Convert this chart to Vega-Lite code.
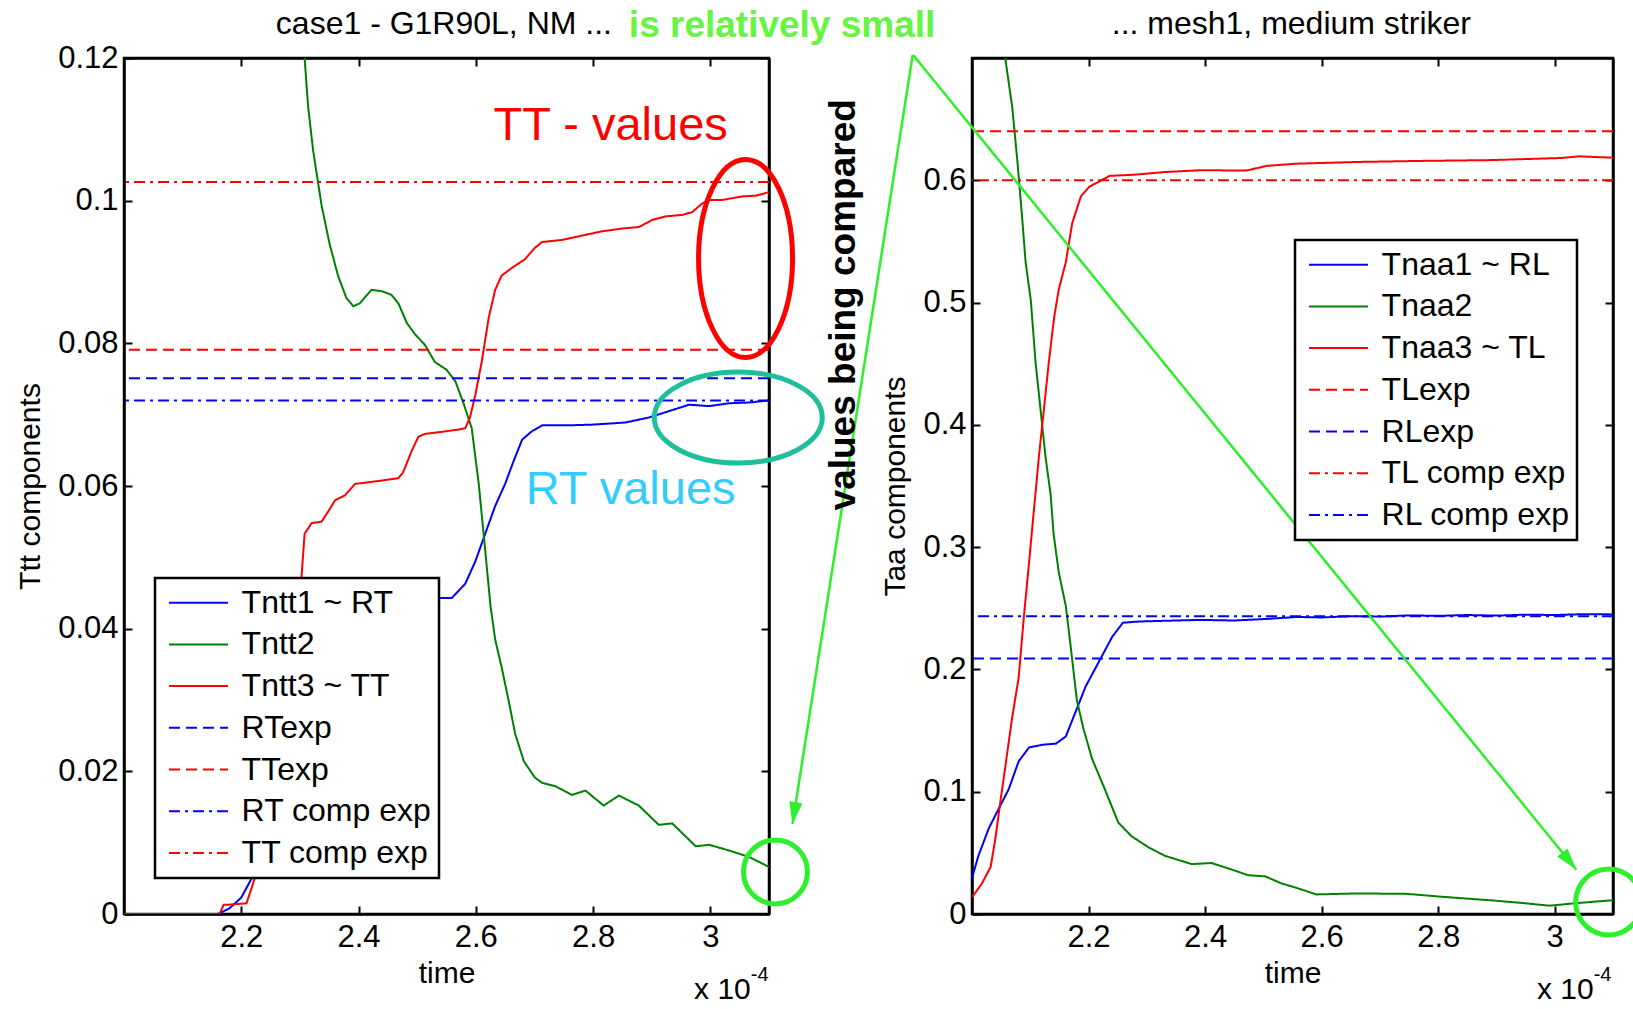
{
  "$schema": "https://vega.github.io/schema/vega-lite/v6.json",
  "background": "white",
  "padding": {"left": 14, "top": 5, "right": 0, "bottom": 0},
  "bounds": "flush",
  "spacing": 203,
  "config": {
    "font": "Liberation Sans",
    "view": {"stroke": "black", "strokeWidth": 2.5},
    "axis": {"domainColor": "black", "domainWidth": 2.5, "tickColor": "black", "tickWidth": 2, "tickSize": -8, "labelFont": "Liberation Sans", "labelFontSize": 31, "labelColor": "black", "titleFont": "Liberation Sans", "titleFontSize": 30, "titleFontWeight": "normal", "titleColor": "black", "grid": false},
    "axisX": {"labelPadding": 16, "titlePadding": 6},
    "axisY": {"labelPadding": 14, "titlePadding": 12},
    "legend": {"strokeColor": "black", "strokeWidth": 2.5, "fillColor": "white", "padding": 6.7, "symbolType": "stroke", "symbolSize": 3481, "symbolStrokeWidth": 2, "symbolOffset": 6.3, "labelFont": "Liberation Sans", "labelFontSize": 32, "labelColor": "black", "labelOffset": 12.6, "clipHeight": 36, "rowPadding": 5.7, "labelLimit": 0}
  },
  "datasets": {
    "leftCurves": [
      {"series": "Tntt1 ~ RT", "time": 2.0, "value": 0},
      {"series": "Tntt1 ~ RT", "time": 2.16, "value": 0},
      {"series": "Tntt1 ~ RT", "time": 2.18, "value": 0.0008},
      {"series": "Tntt1 ~ RT", "time": 2.2, "value": 0.0023},
      {"series": "Tntt1 ~ RT", "time": 2.223, "value": 0.0058},
      {"series": "Tntt1 ~ RT", "time": 2.24, "value": 0.0074},
      {"series": "Tntt1 ~ RT", "time": 2.26, "value": 0.012},
      {"series": "Tntt1 ~ RT", "time": 2.3, "value": 0.022},
      {"series": "Tntt1 ~ RT", "time": 2.35, "value": 0.032},
      {"series": "Tntt1 ~ RT", "time": 2.4, "value": 0.039},
      {"series": "Tntt1 ~ RT", "time": 2.45, "value": 0.0432},
      {"series": "Tntt1 ~ RT", "time": 2.5, "value": 0.0443},
      {"series": "Tntt1 ~ RT", "time": 2.559, "value": 0.0443},
      {"series": "Tntt1 ~ RT", "time": 2.582, "value": 0.0463},
      {"series": "Tntt1 ~ RT", "time": 2.599, "value": 0.0494},
      {"series": "Tntt1 ~ RT", "time": 2.616, "value": 0.0533},
      {"series": "Tntt1 ~ RT", "time": 2.633, "value": 0.0572},
      {"series": "Tntt1 ~ RT", "time": 2.65, "value": 0.0603},
      {"series": "Tntt1 ~ RT", "time": 2.664, "value": 0.0634},
      {"series": "Tntt1 ~ RT", "time": 2.679, "value": 0.0665},
      {"series": "Tntt1 ~ RT", "time": 2.696, "value": 0.0677},
      {"series": "Tntt1 ~ RT", "time": 2.713, "value": 0.0685},
      {"series": "Tntt1 ~ RT", "time": 2.755, "value": 0.0685},
      {"series": "Tntt1 ~ RT", "time": 2.798, "value": 0.0686},
      {"series": "Tntt1 ~ RT", "time": 2.855, "value": 0.0689},
      {"series": "Tntt1 ~ RT", "time": 2.895, "value": 0.0696},
      {"series": "Tntt1 ~ RT", "time": 2.941, "value": 0.0708},
      {"series": "Tntt1 ~ RT", "time": 2.964, "value": 0.0714},
      {"series": "Tntt1 ~ RT", "time": 2.998, "value": 0.0712},
      {"series": "Tntt1 ~ RT", "time": 3.032, "value": 0.0716},
      {"series": "Tntt1 ~ RT", "time": 3.066, "value": 0.0717},
      {"series": "Tntt1 ~ RT", "time": 3.1, "value": 0.072},
      {"series": "Tntt2", "time": 2.3, "value": 0.135},
      {"series": "Tntt2", "time": 2.308, "value": 0.12},
      {"series": "Tntt2", "time": 2.314, "value": 0.1132},
      {"series": "Tntt2", "time": 2.3226, "value": 0.107},
      {"series": "Tntt2", "time": 2.337, "value": 0.0993},
      {"series": "Tntt2", "time": 2.351, "value": 0.0938},
      {"series": "Tntt2", "time": 2.365, "value": 0.0895},
      {"series": "Tntt2", "time": 2.379, "value": 0.0864},
      {"series": "Tntt2", "time": 2.391, "value": 0.0852},
      {"series": "Tntt2", "time": 2.402, "value": 0.0856},
      {"series": "Tntt2", "time": 2.422, "value": 0.0875},
      {"series": "Tntt2", "time": 2.44, "value": 0.0873},
      {"series": "Tntt2", "time": 2.456, "value": 0.0868},
      {"series": "Tntt2", "time": 2.468, "value": 0.0856},
      {"series": "Tntt2", "time": 2.482, "value": 0.0829},
      {"series": "Tntt2", "time": 2.496, "value": 0.0813},
      {"series": "Tntt2", "time": 2.513, "value": 0.0798},
      {"series": "Tntt2", "time": 2.53, "value": 0.0774},
      {"series": "Tntt2", "time": 2.55, "value": 0.0763},
      {"series": "Tntt2", "time": 2.565, "value": 0.0747},
      {"series": "Tntt2", "time": 2.579, "value": 0.0716},
      {"series": "Tntt2", "time": 2.593, "value": 0.0681},
      {"series": "Tntt2", "time": 2.605, "value": 0.0603},
      {"series": "Tntt2", "time": 2.616, "value": 0.051},
      {"series": "Tntt2", "time": 2.625, "value": 0.0432},
      {"series": "Tntt2", "time": 2.633, "value": 0.0385},
      {"series": "Tntt2", "time": 2.644, "value": 0.0346},
      {"series": "Tntt2", "time": 2.656, "value": 0.0299},
      {"series": "Tntt2", "time": 2.667, "value": 0.0253},
      {"series": "Tntt2", "time": 2.682, "value": 0.0214},
      {"series": "Tntt2", "time": 2.701, "value": 0.0191},
      {"series": "Tntt2", "time": 2.713, "value": 0.0184},
      {"series": "Tntt2", "time": 2.736, "value": 0.0179},
      {"series": "Tntt2", "time": 2.764, "value": 0.0167},
      {"series": "Tntt2", "time": 2.787, "value": 0.0173},
      {"series": "Tntt2", "time": 2.818, "value": 0.0152},
      {"series": "Tntt2", "time": 2.844, "value": 0.0166},
      {"series": "Tntt2", "time": 2.878, "value": 0.0152},
      {"series": "Tntt2", "time": 2.912, "value": 0.0125},
      {"series": "Tntt2", "time": 2.935, "value": 0.0127},
      {"series": "Tntt2", "time": 2.975, "value": 0.0095},
      {"series": "Tntt2", "time": 2.998, "value": 0.0097},
      {"series": "Tntt2", "time": 3.032, "value": 0.0089},
      {"series": "Tntt2", "time": 3.066, "value": 0.008},
      {"series": "Tntt2", "time": 3.1, "value": 0.0066},
      {"series": "Tntt3 ~ TT", "time": 2.0, "value": 0},
      {"series": "Tntt3 ~ TT", "time": 2.163, "value": 0},
      {"series": "Tntt3 ~ TT", "time": 2.17, "value": 0.0013},
      {"series": "Tntt3 ~ TT", "time": 2.177, "value": 0.0013},
      {"series": "Tntt3 ~ TT", "time": 2.209, "value": 0.0015},
      {"series": "Tntt3 ~ TT", "time": 2.223, "value": 0.005},
      {"series": "Tntt3 ~ TT", "time": 2.24, "value": 0.01},
      {"series": "Tntt3 ~ TT", "time": 2.26, "value": 0.02},
      {"series": "Tntt3 ~ TT", "time": 2.28, "value": 0.032},
      {"series": "Tntt3 ~ TT", "time": 2.295, "value": 0.042},
      {"series": "Tntt3 ~ TT", "time": 2.3026, "value": 0.0471},
      {"series": "Tntt3 ~ TT", "time": 2.308, "value": 0.0533},
      {"series": "Tntt3 ~ TT", "time": 2.32, "value": 0.0548},
      {"series": "Tntt3 ~ TT", "time": 2.337, "value": 0.055},
      {"series": "Tntt3 ~ TT", "time": 2.348, "value": 0.0564},
      {"series": "Tntt3 ~ TT", "time": 2.36, "value": 0.058},
      {"series": "Tntt3 ~ TT", "time": 2.377, "value": 0.0587},
      {"series": "Tntt3 ~ TT", "time": 2.394, "value": 0.0603},
      {"series": "Tntt3 ~ TT", "time": 2.434, "value": 0.0607},
      {"series": "Tntt3 ~ TT", "time": 2.468, "value": 0.0611},
      {"series": "Tntt3 ~ TT", "time": 2.476, "value": 0.0619},
      {"series": "Tntt3 ~ TT", "time": 2.491, "value": 0.065},
      {"series": "Tntt3 ~ TT", "time": 2.502, "value": 0.0669},
      {"series": "Tntt3 ~ TT", "time": 2.513, "value": 0.0673},
      {"series": "Tntt3 ~ TT", "time": 2.57, "value": 0.0679},
      {"series": "Tntt3 ~ TT", "time": 2.582, "value": 0.0681},
      {"series": "Tntt3 ~ TT", "time": 2.59, "value": 0.0696},
      {"series": "Tntt3 ~ TT", "time": 2.599, "value": 0.0727},
      {"series": "Tntt3 ~ TT", "time": 2.61, "value": 0.0774},
      {"series": "Tntt3 ~ TT", "time": 2.622, "value": 0.0836},
      {"series": "Tntt3 ~ TT", "time": 2.633, "value": 0.0875},
      {"series": "Tntt3 ~ TT", "time": 2.644, "value": 0.0895},
      {"series": "Tntt3 ~ TT", "time": 2.662, "value": 0.0906},
      {"series": "Tntt3 ~ TT", "time": 2.684, "value": 0.0918},
      {"series": "Tntt3 ~ TT", "time": 2.701, "value": 0.0934},
      {"series": "Tntt3 ~ TT", "time": 2.713, "value": 0.0942},
      {"series": "Tntt3 ~ TT", "time": 2.747, "value": 0.0945},
      {"series": "Tntt3 ~ TT", "time": 2.781, "value": 0.0951},
      {"series": "Tntt3 ~ TT", "time": 2.815, "value": 0.0957},
      {"series": "Tntt3 ~ TT", "time": 2.85, "value": 0.0961},
      {"series": "Tntt3 ~ TT", "time": 2.878, "value": 0.0963},
      {"series": "Tntt3 ~ TT", "time": 2.901, "value": 0.0973},
      {"series": "Tntt3 ~ TT", "time": 2.924, "value": 0.0978},
      {"series": "Tntt3 ~ TT", "time": 2.952, "value": 0.098},
      {"series": "Tntt3 ~ TT", "time": 2.969, "value": 0.0984},
      {"series": "Tntt3 ~ TT", "time": 2.986, "value": 0.0996},
      {"series": "Tntt3 ~ TT", "time": 2.998, "value": 0.1001},
      {"series": "Tntt3 ~ TT", "time": 3.02, "value": 0.1001},
      {"series": "Tntt3 ~ TT", "time": 3.055, "value": 0.1006},
      {"series": "Tntt3 ~ TT", "time": 3.078, "value": 0.1007},
      {"series": "Tntt3 ~ TT", "time": 3.1, "value": 0.1012}
    ],
    "leftRefs": [
      {"series": "RTexp", "value": 0.0751},
      {"series": "TTexp", "value": 0.0791},
      {"series": "RT comp exp", "value": 0.072},
      {"series": "TT comp exp", "value": 0.1026}
    ],
    "rightCurves": [
      {"series": "Tnaa1 ~ RL", "time": 2.0, "value": 0.0294},
      {"series": "Tnaa1 ~ RL", "time": 2.011, "value": 0.0476},
      {"series": "Tnaa1 ~ RL", "time": 2.029, "value": 0.0703},
      {"series": "Tnaa1 ~ RL", "time": 2.046, "value": 0.0862},
      {"series": "Tnaa1 ~ RL", "time": 2.063, "value": 0.102},
      {"series": "Tnaa1 ~ RL", "time": 2.08, "value": 0.1248},
      {"series": "Tnaa1 ~ RL", "time": 2.098, "value": 0.1362},
      {"series": "Tnaa1 ~ RL", "time": 2.121, "value": 0.1384},
      {"series": "Tnaa1 ~ RL", "time": 2.144, "value": 0.1393},
      {"series": "Tnaa1 ~ RL", "time": 2.161, "value": 0.1452},
      {"series": "Tnaa1 ~ RL", "time": 2.178, "value": 0.1656},
      {"series": "Tnaa1 ~ RL", "time": 2.195, "value": 0.186},
      {"series": "Tnaa1 ~ RL", "time": 2.218, "value": 0.2065},
      {"series": "Tnaa1 ~ RL", "time": 2.241, "value": 0.227},
      {"series": "Tnaa1 ~ RL", "time": 2.259, "value": 0.2382},
      {"series": "Tnaa1 ~ RL", "time": 2.287, "value": 0.2392},
      {"series": "Tnaa1 ~ RL", "time": 2.333, "value": 0.2398},
      {"series": "Tnaa1 ~ RL", "time": 2.391, "value": 0.2405},
      {"series": "Tnaa1 ~ RL", "time": 2.45, "value": 0.24},
      {"series": "Tnaa1 ~ RL", "time": 2.506, "value": 0.2413},
      {"series": "Tnaa1 ~ RL", "time": 2.557, "value": 0.2429},
      {"series": "Tnaa1 ~ RL", "time": 2.6, "value": 0.2425},
      {"series": "Tnaa1 ~ RL", "time": 2.65, "value": 0.2435},
      {"series": "Tnaa1 ~ RL", "time": 2.7, "value": 0.2432},
      {"series": "Tnaa1 ~ RL", "time": 2.75, "value": 0.2442},
      {"series": "Tnaa1 ~ RL", "time": 2.8, "value": 0.2438},
      {"series": "Tnaa1 ~ RL", "time": 2.85, "value": 0.2445},
      {"series": "Tnaa1 ~ RL", "time": 2.9, "value": 0.244},
      {"series": "Tnaa1 ~ RL", "time": 2.95, "value": 0.2448},
      {"series": "Tnaa1 ~ RL", "time": 3.0, "value": 0.2445},
      {"series": "Tnaa1 ~ RL", "time": 3.05, "value": 0.2452},
      {"series": "Tnaa1 ~ RL", "time": 3.1, "value": 0.245},
      {"series": "Tnaa2", "time": 2.045, "value": 0.76},
      {"series": "Tnaa2", "time": 2.057, "value": 0.7},
      {"series": "Tnaa2", "time": 2.069, "value": 0.66},
      {"series": "Tnaa2", "time": 2.078, "value": 0.615},
      {"series": "Tnaa2", "time": 2.086, "value": 0.5696},
      {"series": "Tnaa2", "time": 2.092, "value": 0.533},
      {"series": "Tnaa2", "time": 2.101, "value": 0.5015},
      {"series": "Tnaa2", "time": 2.109, "value": 0.4516},
      {"series": "Tnaa2", "time": 2.118, "value": 0.4107},
      {"series": "Tnaa2", "time": 2.126, "value": 0.3745},
      {"series": "Tnaa2", "time": 2.135, "value": 0.3427},
      {"series": "Tnaa2", "time": 2.14, "value": 0.3109},
      {"series": "Tnaa2", "time": 2.149, "value": 0.2791},
      {"series": "Tnaa2", "time": 2.161, "value": 0.2519},
      {"series": "Tnaa2", "time": 2.169, "value": 0.2201},
      {"series": "Tnaa2", "time": 2.18, "value": 0.1747},
      {"series": "Tnaa2", "time": 2.191, "value": 0.152},
      {"series": "Tnaa2", "time": 2.206, "value": 0.127},
      {"series": "Tnaa2", "time": 2.228, "value": 0.102},
      {"series": "Tnaa2", "time": 2.251, "value": 0.0748},
      {"series": "Tnaa2", "time": 2.274, "value": 0.0635},
      {"series": "Tnaa2", "time": 2.303, "value": 0.0545},
      {"series": "Tnaa2", "time": 2.331, "value": 0.0476},
      {"series": "Tnaa2", "time": 2.377, "value": 0.0408},
      {"series": "Tnaa2", "time": 2.411, "value": 0.0417},
      {"series": "Tnaa2", "time": 2.446, "value": 0.0363},
      {"series": "Tnaa2", "time": 2.474, "value": 0.0317},
      {"series": "Tnaa2", "time": 2.503, "value": 0.0308},
      {"series": "Tnaa2", "time": 2.531, "value": 0.025},
      {"series": "Tnaa2", "time": 2.554, "value": 0.0218},
      {"series": "Tnaa2", "time": 2.591, "value": 0.016},
      {"series": "Tnaa2", "time": 2.659, "value": 0.0168},
      {"series": "Tnaa2", "time": 2.745, "value": 0.0165},
      {"series": "Tnaa2", "time": 2.82, "value": 0.0136},
      {"series": "Tnaa2", "time": 2.888, "value": 0.0113},
      {"series": "Tnaa2", "time": 2.945, "value": 0.009},
      {"series": "Tnaa2", "time": 2.991, "value": 0.0068},
      {"series": "Tnaa2", "time": 3.04, "value": 0.009},
      {"series": "Tnaa2", "time": 3.1, "value": 0.0113},
      {"series": "Tnaa3 ~ TL", "time": 2.0, "value": 0.0136},
      {"series": "Tnaa3 ~ TL", "time": 2.017, "value": 0.025},
      {"series": "Tnaa3 ~ TL", "time": 2.032, "value": 0.0385},
      {"series": "Tnaa3 ~ TL", "time": 2.04, "value": 0.0613},
      {"series": "Tnaa3 ~ TL", "time": 2.049, "value": 0.093},
      {"series": "Tnaa3 ~ TL", "time": 2.057, "value": 0.12},
      {"series": "Tnaa3 ~ TL", "time": 2.069, "value": 0.161},
      {"series": "Tnaa3 ~ TL", "time": 2.08, "value": 0.193},
      {"series": "Tnaa3 ~ TL", "time": 2.089, "value": 0.243},
      {"series": "Tnaa3 ~ TL", "time": 2.098, "value": 0.288},
      {"series": "Tnaa3 ~ TL", "time": 2.106, "value": 0.329},
      {"series": "Tnaa3 ~ TL", "time": 2.115, "value": 0.375},
      {"series": "Tnaa3 ~ TL", "time": 2.123, "value": 0.411},
      {"series": "Tnaa3 ~ TL", "time": 2.132, "value": 0.452},
      {"series": "Tnaa3 ~ TL", "time": 2.141, "value": 0.488},
      {"series": "Tnaa3 ~ TL", "time": 2.149, "value": 0.511},
      {"series": "Tnaa3 ~ TL", "time": 2.161, "value": 0.533},
      {"series": "Tnaa3 ~ TL", "time": 2.172, "value": 0.565},
      {"series": "Tnaa3 ~ TL", "time": 2.187, "value": 0.587},
      {"series": "Tnaa3 ~ TL", "time": 2.201, "value": 0.5946},
      {"series": "Tnaa3 ~ TL", "time": 2.218, "value": 0.599},
      {"series": "Tnaa3 ~ TL", "time": 2.236, "value": 0.6036},
      {"series": "Tnaa3 ~ TL", "time": 2.276, "value": 0.6045},
      {"series": "Tnaa3 ~ TL", "time": 2.333, "value": 0.6068},
      {"series": "Tnaa3 ~ TL", "time": 2.391, "value": 0.6082},
      {"series": "Tnaa3 ~ TL", "time": 2.471, "value": 0.608},
      {"series": "Tnaa3 ~ TL", "time": 2.506, "value": 0.6118},
      {"series": "Tnaa3 ~ TL", "time": 2.557, "value": 0.6136},
      {"series": "Tnaa3 ~ TL", "time": 2.663, "value": 0.615},
      {"series": "Tnaa3 ~ TL", "time": 2.778, "value": 0.6159},
      {"series": "Tnaa3 ~ TL", "time": 2.89, "value": 0.6165},
      {"series": "Tnaa3 ~ TL", "time": 3.009, "value": 0.6182},
      {"series": "Tnaa3 ~ TL", "time": 3.043, "value": 0.6196},
      {"series": "Tnaa3 ~ TL", "time": 3.07, "value": 0.619},
      {"series": "Tnaa3 ~ TL", "time": 3.1, "value": 0.6185}
    ],
    "rightRefs": [
      {"series": "TLexp", "value": 0.64},
      {"series": "RLexp", "value": 0.209},
      {"series": "TL comp exp", "value": 0.6},
      {"series": "RL comp exp", "value": 0.2435}
    ]
  },
  "resolve": {
    "scale": {"x": "independent", "y": "independent", "color": "independent", "strokeDash": "independent"},
    "legend": {"color": "independent", "strokeDash": "independent"}
  },
  "hconcat": [
    {
      "width": 645,
      "height": 856,
      "resolve": {"axis": {"x": "independent", "y": "independent"}},
      "layer": [
        {
          "data": {"name": "leftCurves"},
          "mark": {"type": "line", "strokeWidth": 2, "clip": true},
          "encoding": {
            "x": {"field": "time", "type": "quantitative", "scale": {"domain": [2.0, 3.1], "nice": false, "zero": false}, "axis": {"orient": "bottom", "values": [2.2, 2.4, 2.6, 2.8, 3], "format": ".1~f", "title": "time"}},
            "y": {"field": "value", "type": "quantitative", "scale": {"domain": [0, 0.12], "nice": false, "zero": false}, "axis": {"orient": "left", "values": [0, 0.02, 0.04, 0.06, 0.08, 0.1, 0.12], "format": ".2~f", "title": "Ttt components"}},
            "color": {"field": "series", "type": "nominal", "scale": {"domain": ["Tntt1 ~ RT", "Tntt2", "Tntt3 ~ TT", "RTexp", "TTexp", "RT comp exp", "TT comp exp"], "range": ["#0000ff", "#008000", "#ff0000", "#0000ff", "#ff0000", "#0000ff", "#ff0000"]}, "legend": {"orient": "none", "legendX": 31, "legendY": 520, "title": null}},
            "strokeDash": {"field": "series", "type": "nominal", "scale": {"domain": ["Tntt1 ~ RT", "Tntt2", "Tntt3 ~ TT", "RTexp", "TTexp", "RT comp exp", "TT comp exp"], "range": [[1, 0], [1, 0], [1, 0], [11, 6], [11, 6], [11, 5, 3, 5], [11, 5, 3, 5]]}, "legend": {"orient": "none", "legendX": 31, "legendY": 520, "title": null}}
          }
        },
        {
          "data": {"name": "leftRefs"},
          "mark": {"type": "rule", "strokeWidth": 2},
          "encoding": {
            "y": {"field": "value", "type": "quantitative", "axis": null},
            "color": {"field": "series", "type": "nominal"},
            "strokeDash": {"field": "series", "type": "nominal"}
          }
        },
        {
          "data": {"values": [{"time": 2.5, "value": 0.05}]},
          "mark": {"type": "point", "opacity": 0},
          "encoding": {
            "x": {"field": "time", "type": "quantitative", "axis": {"orient": "top", "values": [2.2, 2.4, 2.6, 2.8, 3], "labels": false, "title": null}},
            "y": {"field": "value", "type": "quantitative", "axis": {"orient": "right", "values": [0.02, 0.04, 0.06, 0.08, 0.1], "labels": false, "title": null}}
          }
        },
        {
          "data": {"values": [{"time": 3.345, "value": 0.1204}, {"time": 3.14, "value": 0.0126}]},
          "mark": {"type": "line", "color": "#2cf02c", "strokeWidth": 2.5, "clip": false},
          "encoding": {
            "x": {"field": "time", "type": "quantitative", "axis": null},
            "y": {"field": "value", "type": "quantitative", "axis": null}
          }
        },
        {
          "data": {"values": [{"time": 3.14, "value": 0.0126}]},
          "mark": {"type": "point", "shape": "M 0 0 L -0.3 1 L 0.3 1 Z", "size": 1936, "angle": 188.9, "filled": true, "color": "#2cf02c", "opacity": 1, "strokeWidth": 0, "clip": false},
          "encoding": {
            "x": {"field": "time", "type": "quantitative", "axis": null},
            "y": {"field": "value", "type": "quantitative", "axis": null}
          }
        },
        {
          "data": {"values": [{"time": 3.111, "value": 0.0059}]},
          "mark": {"type": "point", "shape": "circle", "size": 4096, "filled": false, "stroke": "#2cf02c", "strokeWidth": 5, "opacity": 1, "clip": false},
          "encoding": {
            "x": {"field": "time", "type": "quantitative", "axis": null},
            "y": {"field": "value", "type": "quantitative", "axis": null}
          }
        },
        {
          "data": {"values": [{"time": 3.06, "value": 0.0919}]},
          "mark": {"type": "point", "shape": "M 0.4747 0 C 0.4747 0.5523 0.2622 1 0 1 C -0.2622 1 -0.4747 0.5523 -0.4747 0 C -0.4747 -0.5523 -0.2622 -1 0 -1 C 0.2622 -1 0.4747 -0.5523 0.4747 0 Z", "size": 39204, "filled": false, "stroke": "#ff0000", "strokeWidth": 5, "opacity": 1, "clip": false},
          "encoding": {
            "x": {"field": "time", "type": "quantitative", "axis": null},
            "y": {"field": "value", "type": "quantitative", "axis": null}
          }
        },
        {
          "data": {"values": [{"time": 3.0476, "value": 0.0696}]},
          "mark": {"type": "point", "shape": "M 1 0 C 1 0.2992 0.5523 0.5417 0 0.5417 C -0.5523 0.5417 -1 0.2992 -1 0 C -1 -0.2992 -0.5523 -0.5417 0 -0.5417 C 0.5523 -0.5417 1 -0.2992 1 0 Z", "size": 28224, "filled": false, "stroke": "#1fbf9c", "strokeWidth": 5, "opacity": 1, "clip": false},
          "encoding": {
            "x": {"field": "time", "type": "quantitative", "axis": null},
            "y": {"field": "value", "type": "quantitative", "axis": null}
          }
        },
        {
          "data": {"values": [{"label": "case1 - G1R90L, NM ...", "time": 2.5456, "value": 0.1248}]},
          "mark": {"type": "text", "font": "Liberation Sans", "fontSize": 32, "color": "black", "align": "center", "baseline": "middle", "clip": false},
          "encoding": {
            "x": {"field": "time", "type": "quantitative", "axis": null},
            "y": {"field": "value", "type": "quantitative", "axis": null},
            "text": {"field": "label"}
          }
        },
        {
          "data": {"values": [{"label": "TT - values", "time": 2.83, "value": 0.1105}]},
          "mark": {"type": "text", "font": "Liberation Sans", "fontSize": 47, "color": "#ff0000", "align": "center", "baseline": "middle", "clip": false},
          "encoding": {
            "x": {"field": "time", "type": "quantitative", "axis": null},
            "y": {"field": "value", "type": "quantitative", "axis": null},
            "text": {"field": "label"}
          }
        },
        {
          "data": {"values": [{"label": "RT values", "time": 2.864, "value": 0.0594}]},
          "mark": {"type": "text", "font": "Liberation Sans", "fontSize": 47, "color": "#33ccff", "align": "center", "baseline": "middle", "clip": false},
          "encoding": {
            "x": {"field": "time", "type": "quantitative", "axis": null},
            "y": {"field": "value", "type": "quantitative", "axis": null},
            "text": {"field": "label"}
          }
        },
        {
          "data": {"values": [{"label": "values being compared", "time": 3.2276, "value": 0.0854}]},
          "mark": {"type": "text", "font": "Liberation Sans", "fontSize": 37, "fontWeight": "bold", "color": "black", "align": "center", "baseline": "middle", "angle": 270, "clip": false},
          "encoding": {
            "x": {"field": "time", "type": "quantitative", "axis": null},
            "y": {"field": "value", "type": "quantitative", "axis": null},
            "text": {"field": "label"}
          }
        },
        {
          "data": {"values": [{"label": "is relatively small", "time": 2.861, "value": 0.1245}]},
          "mark": {"type": "text", "font": "Liberation Sans", "fontSize": 37, "fontWeight": "bold", "color": "#66f542", "align": "left", "baseline": "middle", "clip": false},
          "encoding": {
            "x": {"field": "time", "type": "quantitative", "axis": null},
            "y": {"field": "value", "type": "quantitative", "axis": null},
            "text": {"field": "label"}
          }
        },
        {
          "data": {"values": [{"label": "x 10", "time": 3.069, "value": -0.0107}]},
          "mark": {"type": "text", "font": "Liberation Sans", "fontSize": 30, "color": "black", "align": "right", "baseline": "middle", "clip": false},
          "encoding": {
            "x": {"field": "time", "type": "quantitative", "axis": null},
            "y": {"field": "value", "type": "quantitative", "axis": null},
            "text": {"field": "label"}
          }
        },
        {
          "data": {"values": [{"label": "-4", "time": 3.069, "value": -0.0086}]},
          "mark": {"type": "text", "font": "Liberation Sans", "fontSize": 20, "color": "black", "align": "left", "baseline": "middle", "clip": false},
          "encoding": {
            "x": {"field": "time", "type": "quantitative", "axis": null},
            "y": {"field": "value", "type": "quantitative", "axis": null},
            "text": {"field": "label"}
          }
        }
      ]
    },
    {
      "width": 641,
      "height": 856,
      "resolve": {"axis": {"x": "independent", "y": "independent"}},
      "layer": [
        {
          "data": {"name": "rightCurves"},
          "mark": {"type": "line", "strokeWidth": 2, "clip": true},
          "encoding": {
            "x": {"field": "time", "type": "quantitative", "scale": {"domain": [2.0, 3.1], "nice": false, "zero": false}, "axis": {"orient": "bottom", "values": [2.2, 2.4, 2.6, 2.8, 3], "format": ".1~f", "title": "time"}},
            "y": {"field": "value", "type": "quantitative", "scale": {"domain": [0, 0.7], "nice": false, "zero": false}, "axis": {"orient": "left", "values": [0, 0.1, 0.2, 0.3, 0.4, 0.5, 0.6], "format": ".1~f", "title": "Taa components"}},
            "color": {"field": "series", "type": "nominal", "scale": {"domain": ["Tnaa1 ~ RL", "Tnaa2", "Tnaa3 ~ TL", "TLexp", "RLexp", "TL comp exp", "RL comp exp"], "range": ["#0000ff", "#008000", "#ff0000", "#ff0000", "#0000ff", "#ff0000", "#0000ff"]}, "legend": {"orient": "none", "legendX": 323, "legendY": 182, "title": null}},
            "strokeDash": {"field": "series", "type": "nominal", "scale": {"domain": ["Tnaa1 ~ RL", "Tnaa2", "Tnaa3 ~ TL", "TLexp", "RLexp", "TL comp exp", "RL comp exp"], "range": [[1, 0], [1, 0], [1, 0], [11, 6], [11, 6], [11, 5, 3, 5], [11, 5, 3, 5]]}, "legend": {"orient": "none", "legendX": 323, "legendY": 182, "title": null}}
          }
        },
        {
          "data": {"name": "rightRefs"},
          "mark": {"type": "rule", "strokeWidth": 2},
          "encoding": {
            "y": {"field": "value", "type": "quantitative", "axis": null},
            "color": {"field": "series", "type": "nominal"},
            "strokeDash": {"field": "series", "type": "nominal"}
          }
        },
        {
          "data": {"values": [{"time": 2.5, "value": 0.3}]},
          "mark": {"type": "point", "opacity": 0},
          "encoding": {
            "x": {"field": "time", "type": "quantitative", "axis": {"orient": "top", "values": [2.2, 2.4, 2.6, 2.8, 3], "labels": false, "title": null}},
            "y": {"field": "value", "type": "quantitative", "axis": {"orient": "right", "values": [0.1, 0.2, 0.3, 0.4, 0.5, 0.6], "labels": false, "title": null}}
          }
        },
        {
          "data": {"values": [{"time": 1.899, "value": 0.7025}, {"time": 3.037, "value": 0.0363}]},
          "mark": {"type": "line", "color": "#2cf02c", "strokeWidth": 2.5, "clip": false},
          "encoding": {
            "x": {"field": "time", "type": "quantitative", "axis": null},
            "y": {"field": "value", "type": "quantitative", "axis": null}
          }
        },
        {
          "data": {"values": [{"time": 3.037, "value": 0.0363}]},
          "mark": {"type": "point", "shape": "M 0 0 L -0.3 1 L 0.3 1 Z", "size": 1936, "angle": 140.8, "filled": true, "color": "#2cf02c", "opacity": 1, "strokeWidth": 0, "clip": false},
          "encoding": {
            "x": {"field": "time", "type": "quantitative", "axis": null},
            "y": {"field": "value", "type": "quantitative", "axis": null}
          }
        },
        {
          "data": {"values": [{"time": 3.0925, "value": 0.0098}]},
          "mark": {"type": "point", "shape": "circle", "size": 4356, "filled": false, "stroke": "#2cf02c", "strokeWidth": 5, "opacity": 1, "clip": false},
          "encoding": {
            "x": {"field": "time", "type": "quantitative", "axis": null},
            "y": {"field": "value", "type": "quantitative", "axis": null}
          }
        },
        {
          "data": {"values": [{"label": "... mesh1, medium striker", "time": 2.548, "value": 0.7278}]},
          "mark": {"type": "text", "font": "Liberation Sans", "fontSize": 32, "color": "black", "align": "center", "baseline": "middle", "clip": false},
          "encoding": {
            "x": {"field": "time", "type": "quantitative", "axis": null},
            "y": {"field": "value", "type": "quantitative", "axis": null},
            "text": {"field": "label"}
          }
        },
        {
          "data": {"values": [{"label": "x 10", "time": 3.0668, "value": -0.0622}]},
          "mark": {"type": "text", "font": "Liberation Sans", "fontSize": 30, "color": "black", "align": "right", "baseline": "middle", "clip": false},
          "encoding": {
            "x": {"field": "time", "type": "quantitative", "axis": null},
            "y": {"field": "value", "type": "quantitative", "axis": null},
            "text": {"field": "label"}
          }
        },
        {
          "data": {"values": [{"label": "-4", "time": 3.0668, "value": -0.0499}]},
          "mark": {"type": "text", "font": "Liberation Sans", "fontSize": 20, "color": "black", "align": "left", "baseline": "middle", "clip": false},
          "encoding": {
            "x": {"field": "time", "type": "quantitative", "axis": null},
            "y": {"field": "value", "type": "quantitative", "axis": null},
            "text": {"field": "label"}
          }
        }
      ]
    }
  ]
}
